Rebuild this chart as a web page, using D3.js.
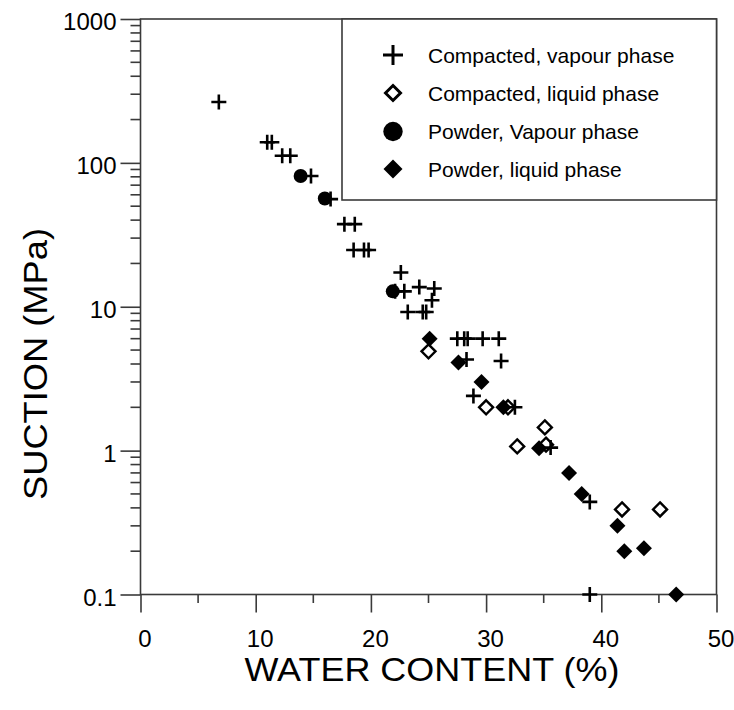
<!DOCTYPE html>
<html><head><meta charset="utf-8">
<script src="https://cdn.jsdelivr.net/npm/d3@7/dist/d3.min.js"></script>
<style>body{margin:0;background:#fff}svg{display:block;font-family:"Liberation Sans",Arial,sans-serif}</style>
</head><body><svg id="c" width="734" height="710"></svg>
<script>
// Data (water content %, suction MPa)
const compactedVapour = [
  [6.8,265],[11.0,139],[11.4,139],[12.3,112],[13.0,112],[14.8,81],[16.5,56],
  [17.7,37.5],[18.6,37.5],[18.5,24.8],[19.4,24.8],[19.8,24.8],[22.6,17.3],
  [22.1,12.8],[22.9,12.8],[24.2,13.7],[25.5,13.4],[25.3,11.1],
  [23.2,9.2],[24.5,9.2],[24.8,9.2],
  [27.5,6.0],[28.1,6.0],[28.4,6.0],[29.7,6.0],[31.1,6.0],
  [28.3,4.3],[31.3,4.2],[28.9,2.4],[32.5,2.0],[35.6,1.05],[39.0,0.44],[39.0,0.1]
];
const compactedLiquid = [
  [25.0,4.9],[30.0,2.0],[31.9,2.0],[32.7,1.07],[35.1,1.45],[35.2,1.1],[41.8,0.39],[45.1,0.39]
];
const powderVapour = [[13.9,81],[16.0,56.6],[21.9,12.8]];
const powderLiquid = [
  [25.1,6.0],[27.6,4.1],[29.6,3.0],[31.5,2.0],[34.6,1.04],[37.2,0.70],[38.3,0.50],
  [41.4,0.30],[42.0,0.20],[43.7,0.21],[46.5,0.10]
];
const xTicks = [0,10,20,30,40,50];
const xMinorTicks = [5,15,25,35,45];
const yTicks = [0.1,1,10,100,1000];
const yTickLabels = ["0.1","1","10","100","1000"];
const legendLabels = ["Compacted, vapour phase","Compacted, liquid phase","Powder, Vapour phase","Powder, liquid phase"];
const xTitle = "WATER CONTENT (%)";
const yTitle = "SUCTION (MPa)";

const svg = d3.select("#c");
const L = 140.5, R = 716.5, T = 19, B = 594.5;
const x = d3.scaleLinear().domain([0,50]).range([L,R]);
const y = d3.scaleLog().domain([0.1,1000]).range([B,T]);
const axisColor = "#3a3a3a";

// X axis
const gx = svg.append("g").attr("transform",`translate(0,${B})`)
  .call(d3.axisBottom(x).tickValues(xTicks).tickSize(18).tickPadding(17).tickFormat(d3.format("d")));
gx.select(".domain").remove();
gx.selectAll("line").attr("stroke",axisColor).attr("stroke-width",1.6);
gx.selectAll("text").attr("x",4).attr("font-size",24).attr("fill","#000").attr("font-family","Liberation Sans, Arial, sans-serif");
svg.append("g").selectAll("line").data(xMinorTicks).join("line")
  .attr("x1",d=>x(d)).attr("x2",d=>x(d)).attr("y1",B).attr("y2",B+8.5)
  .attr("stroke",axisColor).attr("stroke-width",1.6);

// Y axis
const gy = svg.append("g").attr("transform",`translate(${L},0)`)
  .call(d3.axisLeft(y).tickValues(yTicks).tickSize(20).tickPadding(4).tickFormat((d,i)=>yTickLabels[i]));
gy.select(".domain").remove();
gy.selectAll("line").attr("stroke",axisColor).attr("stroke-width",1.6);
gy.selectAll("text").attr("y",3).attr("font-size",24).attr("fill","#000").attr("font-family","Liberation Sans, Arial, sans-serif");
const yMinor = [];
[0.1,1,10,100].forEach(d=>{for(let k=2;k<=9;k++) yMinor.push(k*d);});
svg.append("g").selectAll("line").data(yMinor).join("line")
  .attr("x1",L-10).attr("x2",L).attr("y1",d=>y(d)).attr("y2",d=>y(d))
  .attr("stroke",axisColor).attr("stroke-width",1.6);

// Plot frame
svg.append("rect").attr("x",L).attr("y",T).attr("width",R-L).attr("height",B-T)
  .attr("fill","none").attr("stroke",axisColor).attr("stroke-width",1.6);

// Symbols
const plusPath = r=>`M${-r},0H${r}M0,${-r}V${r}`;
const diamondPath = r=>`M0,${-r}L${r},0L0,${r}L${-r},0Z`;

const marks = svg.append("g");
marks.selectAll("path.ol").data(compactedLiquid).join("path").attr("class","ol")
  .attr("d",diamondPath(7)).attr("transform",d=>`translate(${x(d[0])},${y(d[1])})`)
  .attr("fill","#fff").attr("stroke","#000").attr("stroke-width",2.4);
marks.selectAll("path.fl").data(powderLiquid).join("path").attr("class","fl")
  .attr("d",diamondPath(8)).attr("transform",d=>`translate(${x(d[0])},${y(d[1])})`)
  .attr("fill","#000");
marks.selectAll("circle").data(powderVapour).join("circle")
  .attr("cx",d=>x(d[0])).attr("cy",d=>y(d[1])).attr("r",7).attr("fill","#000");
marks.selectAll("path.pl").data(compactedVapour).join("path").attr("class","pl")
  .attr("d",plusPath(7.5)).attr("transform",d=>`translate(${x(d[0])},${y(d[1])})`)
  .attr("fill","none").attr("stroke","#000").attr("stroke-width",2.6);

// Legend
const lg = svg.append("g");
lg.append("rect").attr("x",342).attr("y",T).attr("width",R-342).attr("height",200-T)
  .attr("fill","#fff").attr("stroke",axisColor).attr("stroke-width",1.6);
const rowY = [55,93,131.5,169];
const sx = 393;
lg.append("path").attr("d",plusPath(10)).attr("transform",`translate(${sx},${rowY[0]})`)
  .attr("stroke","#000").attr("stroke-width",3).attr("fill","none");
lg.append("path").attr("d",diamondPath(7.5)).attr("transform",`translate(${sx},${rowY[1]})`)
  .attr("stroke","#000").attr("stroke-width",3).attr("fill","#fff");
lg.append("circle").attr("cx",sx).attr("cy",rowY[2]).attr("r",9.7).attr("fill","#000");
lg.append("path").attr("d",diamondPath(9.5)).attr("transform",`translate(${sx},${rowY[3]})`).attr("fill","#000");
lg.selectAll("text").data(legendLabels).join("text")
  .attr("x",428).attr("y",(d,i)=>rowY[i]).attr("dy","0.36em")
  .attr("font-size",21).attr("fill","#000").text(d=>d);

// Titles
svg.append("text").attr("x",432).attr("y",681).attr("text-anchor","middle")
  .attr("font-size",34).attr("textLength",375).attr("lengthAdjust","spacingAndGlyphs")
  .attr("fill","#000").text(xTitle);
svg.append("text").attr("transform","translate(47,364) rotate(-90)").attr("text-anchor","middle")
  .attr("font-size",33).attr("textLength",272).attr("lengthAdjust","spacingAndGlyphs")
  .attr("fill","#000").text(yTitle);
</script></body></html>
